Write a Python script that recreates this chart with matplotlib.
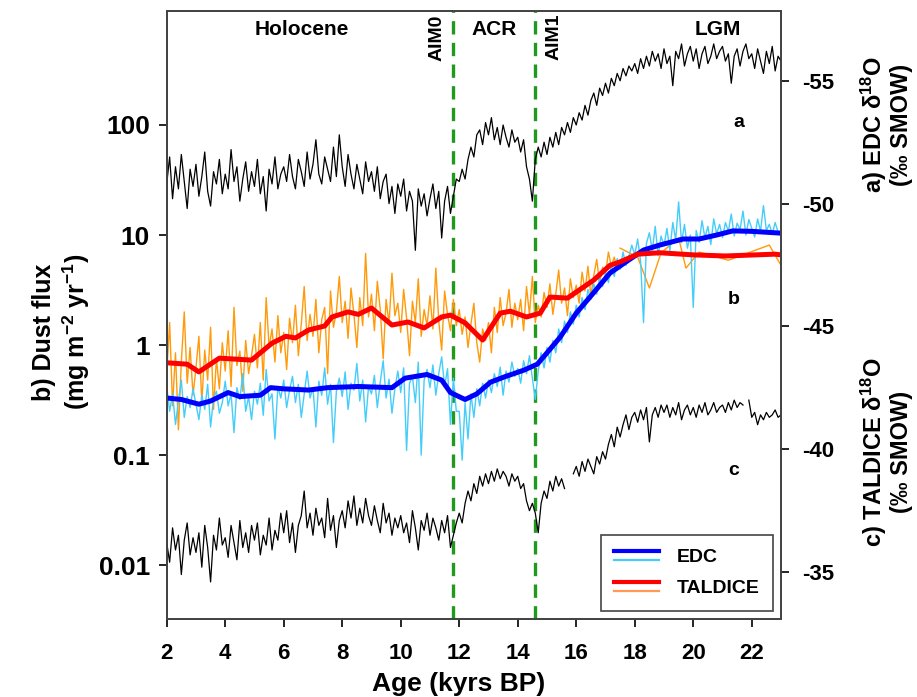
import numpy as np
import matplotlib
matplotlib.use("Agg")
import matplotlib.pyplot as plt
from matplotlib.legend_handler import HandlerBase
from matplotlib.lines import Line2D

plt.rcParams['font.family'] = ['Liberation Sans', 'DejaVu Sans']
plt.rcParams['font.weight'] = 'bold'
plt.rcParams['axes.unicode_minus'] = False
plt.rcParams['mathtext.fontset'] = 'custom'
plt.rcParams['mathtext.rm'] = 'Liberation Sans:bold'
plt.rcParams['mathtext.bf'] = 'Liberation Sans:bold'
plt.rcParams['mathtext.default'] = 'bf'

# ---- data ----
# regular 0.1 kyr sampling grid used by the raw records
age = np.round(np.arange(2.0, 23.05, 0.1), 1)
age_tal = np.round(np.arange(2.0, 17.45, 0.1), 1)

# a) EDC d18O (permil)
edc_d18o = [
    -50.8, -51.9, -50.2, -51.5, -50.6, -52.0, -50.9, -49.8, -51.4, -50.7,
    -51.6, -50.3, -51.1, -52.1, -50.5, -49.9, -51.3, -50.8, -51.8, -50.4,
    -51.2, -50.6, -52.2, -50.9, -51.5, -50.1, -51.0, -51.7, -50.5, -51.3,
    -50.7, -51.8, -50.4, -51.1, -49.7, -51.4, -50.8, -51.9, -50.6, -51.2,
    -51.5, -50.9, -52.0, -51.1, -50.6, -51.8, -51.3, -50.7, -52.1, -51.0,
    -51.6, -52.6, -51.2, -50.8, -51.9, -51.4, -50.9, -52.3, -51.1, -52.8,
    -51.5, -50.7, -52.0, -51.2, -50.6, -51.6, -51.0, -50.4, -51.7, -50.9,
    -51.3, -50.5, -51.5, -50.2, -50.9, -51.2, -50.0, -50.7, -49.6, -50.8,
    -50.3, -51.0, -49.7, -50.5, -50.1, -48.1, -50.6, -49.9, -50.4, -49.5,
    -50.2, -50.8, -49.8, -50.5, -48.6, -50.1, -50.7, -49.6, -50.3, -51.0,
    -50.9, -51.4, -51.0, -51.8, -52.3, -51.9, -52.8, -53.0, -52.4, -53.3,
    -52.8, -53.5, -52.6, -53.1, -52.4, -53.2, -52.7, -52.3, -53.0, -52.5,
    -52.7, -52.1, -52.6, -51.5, -51.0, -50.1, -51.8, -52.3, -51.9, -52.5,
    -52.0, -52.7, -52.3, -52.9, -52.4, -53.1, -52.8, -53.3, -52.9, -53.5,
    -53.2, -53.7, -53.4, -54.0, -53.6, -54.2, -54.5, -54.0, -54.7, -54.4,
    -54.9, -54.5, -55.1, -54.8, -55.3, -55.0, -55.5, -55.2, -55.6, -55.4,
    -55.7, -55.3, -55.9, -55.5, -56.0, -55.6, -56.2, -55.8, -56.1, -55.5,
    -56.3, -55.7, -56.0, -54.8, -56.2, -55.9, -56.5, -55.6, -56.1, -56.4,
    -55.8, -56.3, -55.5, -56.1, -56.4, -55.7, -56.0, -56.5, -55.9, -56.2,
    -56.4, -55.8, -56.1, -54.9, -56.0, -56.3, -55.6, -56.2, -56.5, -55.9,
    -56.1, -55.5, -56.3, -55.8, -55.3, -56.2, -55.7, -56.4, -55.4, -56.0,
    -55.8,
]

# c) TALDICE d18O (permil), nan = gap in record
tal_d18o = [
    -36.2, -35.4, -36.8, -35.9, -36.5, -34.9, -36.3, -37.0, -35.7, -36.4,
    -35.8, -36.6, -35.2, -36.9, -36.0, -34.6, -36.5, -35.9, -37.2, -36.1,
    -36.4, -35.6, -36.9, -36.2, -35.5, -37.1, -36.0, -36.6, -35.8, -36.9,
    -36.3, -37.0, -35.7, -36.5, -36.1, -37.2, -35.9, -36.7, -36.3, -37.4,
    -36.6, -37.5, -36.2, -37.0, -35.8, -36.9, -37.3, -38.3, -36.8, -37.4,
    -36.5, -37.6, -36.9, -37.2, -36.4, -38.0, -36.7, -37.3, -36.0, -37.1,
    -37.5, -36.8, -37.9, -37.2, -38.1, -36.9, -37.6, -37.0, -38.0, -37.3,
    -36.9, -37.7, -37.1, -36.6, -37.8, -37.0, -37.4, -36.5, -37.2, -36.8,
    -37.3, -36.6, -37.0, -36.2, -37.5, -36.8, -35.9, -37.1, -36.7, -37.4,
    -36.5, -37.2, -36.8, -36.3, -37.1, -36.6, -37.3, -36.0, -36.5, -37.0,
    -37.4, -37.0, -37.8, -38.3, -37.9, -38.6, -38.2, -38.9, -38.5, -39.0,
    -38.6, -39.1, -38.7, -39.2, -38.8, -39.1, -38.9, -38.5, -39.0, -38.7,
    -38.9, -38.4, -38.6, -37.9, -37.5, -37.8, -37.4, -36.6, -37.8, -38.3,
    -38.0, -38.7, -38.3, -38.9, -38.5, -38.8, -38.4, np.nan, np.nan, -39.0,
    -39.3, -38.9, -39.5, -39.1, -39.6, -39.3, -39.0, -39.7, -39.4, -39.9,
    -39.6, -40.2, -40.6, -40.1, -40.9, -40.5, -41.0, -41.4, -40.8, -41.3,
    -41.5, -41.1, -41.6, -41.2, -41.7, -40.3, -41.4, -41.7, -41.3, -41.8,
    -41.5, -41.8, -41.3, -41.7, -41.4, -41.9, -41.2, -41.6, -41.8, -41.4,
    -41.7, -41.3, -41.8, -41.5, -41.9, -41.4, -41.6, -41.9, -41.5, -41.7,
    -41.8, -41.5, -41.9, -41.6, -42.0, -41.7, -41.9, -41.8, np.nan, -42.0,
    -41.3, -41.5, -41.0, -41.4, -41.2, -41.5, -41.3, -41.4, -41.6, -41.3,
    -41.4,
]

# b) EDC dust flux, raw (mg m-2 yr-1)
edc_dust = [
    0.42, 0.25, 0.36, 0.19, 0.31, 0.48, 0.22, 0.34, 0.27, 0.40,
    0.29, 0.21, 0.35, 0.26, 0.44, 0.18, 0.33, 0.38, 0.24, 0.30,
    0.47, 0.28, 0.36, 0.16, 0.41, 0.32, 0.55, 0.25, 0.34, 0.21,
    0.38, 0.29, 0.45, 0.23, 0.60, 0.31, 0.36, 0.14, 0.42, 0.33,
    0.48, 0.27, 0.39, 0.52, 0.30, 0.44, 0.22, 0.36, 0.58, 0.33,
    0.41, 0.18, 0.47, 0.35, 0.62, 0.29, 0.44, 0.13, 0.38, 0.50,
    0.34, 0.57, 0.26, 0.45, 0.39, 0.68, 0.31, 0.48, 0.20, 0.42,
    0.36, 0.53, 0.27, 0.46, 0.72, 0.33, 0.49, 0.24, 0.40, 0.58,
    0.37, 0.62, 0.11, 0.45, 0.52, 0.30, 0.70, 0.10, 0.48, 0.60,
    0.41, 0.66, 0.35, 0.55, 0.78, 0.42, 0.61, 0.19, 0.50, 0.25,
    0.25, 0.09, 0.30, 0.14, 0.36, 0.22, 0.40, 0.28, 0.45, 0.33,
    0.48, 0.37, 0.55, 0.42, 0.63, 0.35, 0.58, 0.46, 0.70, 0.52,
    0.61, 0.45, 0.72, 0.55, 0.80, 0.50, 0.32, 0.58, 0.85, 0.62,
    0.95, 0.70, 1.10, 0.85, 1.40, 1.05, 1.65, 1.30, 2.00, 1.55,
    2.30, 1.80, 2.70, 2.10, 3.20, 2.60, 3.60, 2.90, 4.10, 3.40,
    4.60, 3.70, 5.40, 4.20, 6.10, 4.90, 7.00, 5.30, 6.40, 8.10,
    6.60, 9.20, 5.80, 1.60, 8.40, 10.5, 7.20, 12.0, 6.50, 9.80,
    8.00, 11.5, 7.20, 13.0, 9.00, 20.0, 8.50, 12.5, 7.60, 10.0,
    2.20, 11.0, 8.60, 13.5, 9.40, 12.0, 8.20, 14.0, 10.2, 12.5,
    9.50, 13.0, 10.8, 15.5, 9.80, 12.8, 11.2, 16.5, 10.0, 13.8,
    11.5, 9.60, 14.0, 10.8, 18.5, 11.0, 12.5, 10.2, 13.0, 10.6,
    10.2,
]

# b) TALDICE dust flux, raw
tal_dust = [
    0.55, 1.60, 0.28, 0.85, 0.17, 0.70, 2.00, 0.45, 0.95, 0.35,
    0.62, 1.20, 0.30, 0.90, 0.48, 1.45, 0.26, 0.75, 0.40, 1.05,
    0.58, 1.35, 0.42, 2.20, 0.65, 0.88, 0.38, 1.10, 0.55, 0.80,
    1.25, 0.62, 1.60, 0.48, 2.70, 0.95, 1.40, 0.70, 1.85, 0.85,
    1.30, 0.60, 1.75, 1.05, 2.30, 0.80, 1.55, 3.40, 1.10, 1.90,
    1.20, 2.60, 0.85, 1.70, 2.20, 0.55, 3.10, 1.45, 2.00, 4.20,
    1.60, 2.50, 1.15, 3.30, 1.90, 0.95, 2.70, 1.50, 6.80, 1.80,
    2.90, 1.35, 3.80, 2.10, 0.75, 2.60, 1.55, 4.50, 1.85, 2.40,
    1.30, 3.20, 1.75, 0.80, 2.50, 1.60, 4.00, 1.20, 2.10, 1.50,
    2.80, 1.40, 5.00, 1.65, 0.90, 3.10, 1.90, 1.35, 2.60, 1.50,
    2.10, 1.25, 1.80, 0.95, 1.55, 2.40, 1.05, 0.70, 1.40, 1.10,
    1.60, 0.85, 2.20, 1.30, 2.70, 1.50, 1.95, 3.20, 1.45, 2.40,
    1.70, 2.60, 1.35, 3.40, 1.90, 4.20, 1.60, 2.30, 1.80, 3.00,
    2.20, 3.60, 1.90, 2.90, 4.80, 2.40, 3.30, 1.85, 4.00, 2.70,
    3.50, 2.40, 4.60, 3.10, 5.20, 2.80, 4.30, 6.00, 3.60, 5.10,
    4.40, 7.00, 5.20, 6.30, 4.90,
]
# sparser glacial part of the TALDICE dust record
age_tal_lgm = [17.5, 18.1, 18.5, 18.9, 19.5, 19.75, 20.2, 21.2, 22.6, 23.0]
tal_dust_lgm = [7.6, 6.3, 3.3, 6.9, 9.4, 5.0, 7.0, 5.9, 8.1, 5.3]

# smoothed dust curves
edc_smooth_age = [2.0, 2.5, 3.1, 3.5, 4.1, 4.5, 5.2, 5.55, 6.0, 6.85, 7.5, 8.55,
                  9.7, 10.15, 10.9, 11.4, 11.7, 12.2, 12.6, 13.07, 13.6, 14.2,
                  14.67, 15.0, 15.45, 16.0, 16.6, 17.15, 17.7, 18.3, 18.85,
                  19.65, 20.2, 20.8, 21.35, 22.0, 23.0]
edc_smooth = [0.33, 0.32, 0.29, 0.31, 0.37, 0.34, 0.35, 0.41, 0.40, 0.39, 0.41, 0.42,
              0.41, 0.50, 0.54, 0.48, 0.37, 0.32, 0.36, 0.46, 0.52, 0.59,
              0.67, 0.85, 1.18, 1.95, 3.0, 4.5, 5.7, 7.3, 8.1,
              9.2, 9.2, 10.0, 10.9, 10.8, 10.4]
tal_smooth_age = [2.0, 2.7, 3.1, 3.8, 4.9, 5.6, 6.07, 6.4, 6.85, 7.4, 7.65, 8.2,
                  8.55, 9.0, 9.7, 10.25, 10.8, 11.4, 11.7, 12.2, 12.8, 13.4,
                  13.75, 14.3, 14.77, 15.1, 15.7, 16.1, 16.6, 17.15, 17.5,
                  18.1, 18.85, 20.0, 21.1, 22.8, 23.0]
tal_smooth = [0.69, 0.67, 0.57, 0.76, 0.73, 1.04, 1.2, 1.16, 1.37, 1.49, 1.8, 2.0,
              1.9, 2.17, 1.52, 1.62, 1.43, 1.8, 1.87, 1.59, 1.11, 1.95,
              2.03, 1.8, 1.95, 2.73, 2.67, 3.16, 3.9, 5.3, 5.7,
              6.7, 6.9, 6.6, 6.45, 6.7, 6.6]

aim_events = {"AIM0": 11.8, "AIM1": 14.6}
periods = {"Holocene": 6.63, "ACR": 13.19, "LGM": 20.85}

# ---- figure ----
fig = plt.figure(figsize=(9.17, 6.97), dpi=100)
ax = fig.add_axes([0.1818, 0.1119, 0.6699, 0.8723])
ax2 = ax.twinx()

cyan = '#45cdfa'
orange = '#ff9a0a'

ax.plot(age_tal, tal_dust, color=orange, lw=1.0)
ax.plot(age_tal_lgm, tal_dust_lgm, color=orange, lw=1.0)
ax.plot(age, edc_dust, color=cyan, lw=1.0)
ax.plot(edc_smooth_age, edc_smooth, color='#0000ff', lw=3.6, solid_capstyle='butt')
ax.plot(tal_smooth_age, tal_smooth, color='#ff0000', lw=3.6, solid_capstyle='butt')

ax.set_yscale('log')
ax.set_ylim(10 ** -2.49, 10 ** 3.036)
ax.set_xlim(2, 23)
ax.set_xticks(range(2, 23, 2))
ax.set_yticks([0.01, 0.1, 1, 10, 100])
ax.set_yticklabels(['0.01', '0.1', '1', '10', '100'])
ax.yaxis.set_minor_locator(matplotlib.ticker.NullLocator())

ax2.plot(age, edc_d18o, color='black', lw=0.9)
ax2.plot(age, tal_d18o, color='black', lw=0.9)
ax2.set_ylim(-33.09, -57.84)
ax2.set_yticks([-55, -50, -45, -40, -35])

for name, x in aim_events.items():
    ax.axvline(x, color='#1f9a1f', lw=2.4, ls=(0, (4, 2.5)), zorder=1)

for a in (ax, ax2):
    for s in a.spines.values():
        s.set_color('#444444')
        s.set_linewidth(1.3)

ax.tick_params(axis='x', direction='out', length=6, width=1.2, pad=11, labelsize=16)
ax.tick_params(axis='y', direction='out', length=6, width=1.2, pad=6, labelsize=19)
ax2.tick_params(axis='y', direction='out', length=6, width=1.2, pad=9, labelsize=16)

# period and event labels
tr = ax.get_xaxis_transform()
for name, x in periods.items():
    ax.text(x, 0.969, name, transform=tr, ha='center', va='center', fontsize=15)
ax.text(11.24, 0.956, "AIM0", transform=tr, rotation=90, ha='center', va='center', fontsize=14)
ax.text(15.25, 0.958, "AIM1", transform=tr, rotation=90, ha='center', va='center', fontsize=14)
ax.text(21.57, 0.816, "a", transform=tr, ha='center', va='center', fontsize=14)
ax.text(21.37, 0.525, "b", transform=tr, ha='center', va='center', fontsize=14)
ax.text(21.37, 0.245, "c", transform=tr, ha='center', va='center', fontsize=14)

# axis titles
fig.text(459 / 917, 1 - 684 / 697, "Age (kyrs BP)", ha='center', va='center', fontsize=19)
fig.text(62 / 917, 1 - 332 / 697, "b) Dust flux\n(mg m$^{-2}$ yr$^{-1}$)",
         rotation=90, ha='center', va='center', fontsize=18, multialignment='center')
fig.text(886 / 917, 1 - 125 / 697, "a) EDC δ$^{18}$O\n(‰ SMOW)",
         rotation=90, ha='center', va='center', fontsize=17, linespacing=1.05,
         multialignment='center')
fig.text(886 / 917, 1 - 452 / 697, "c) TALDICE δ$^{18}$O\n(‰ SMOW)",
         rotation=90, ha='center', va='center', fontsize=17, linespacing=1.05,
         multialignment='center')


# legend: thick smoothed line above thin raw line
class PairHandler(HandlerBase):
    def create_artists(self, legend, orig_handle, xdescent, ydescent,
                       width, height, fontsize, trans):
        thick, thin = orig_handle
        x = [-xdescent, -xdescent + width]
        h = height - ydescent
        l1 = Line2D(x, [h * 0.85] * 2, color=thick.get_color(), lw=3.0, transform=trans)
        l2 = Line2D(x, [h * 0.15] * 2, color=thin.get_color(), lw=1.6, transform=trans)
        return [l1, l2]


h_edc = (Line2D([], [], color='#0000ff'), Line2D([], [], color=cyan))
h_tal = (Line2D([], [], color='#ff0000'), Line2D([], [], color='#ff9955'))
leg = ax2.legend([h_edc, h_tal], ['EDC', 'TALDICE'],
                 handler_map={tuple: PairHandler()},
                 loc='lower right', bbox_to_anchor=(773 / 917, 1 - 611 / 697),
                 bbox_transform=fig.transFigure, borderaxespad=0,
                 fontsize=14, handlelength=2.3, handletextpad=0.9,
                 labelspacing=0.7, borderpad=0.7, fancybox=False, framealpha=1)
leg.get_frame().set_edgecolor('#444444')
leg.get_frame().set_linewidth(1.2)

fig.savefig("out.png", dpi=100)
